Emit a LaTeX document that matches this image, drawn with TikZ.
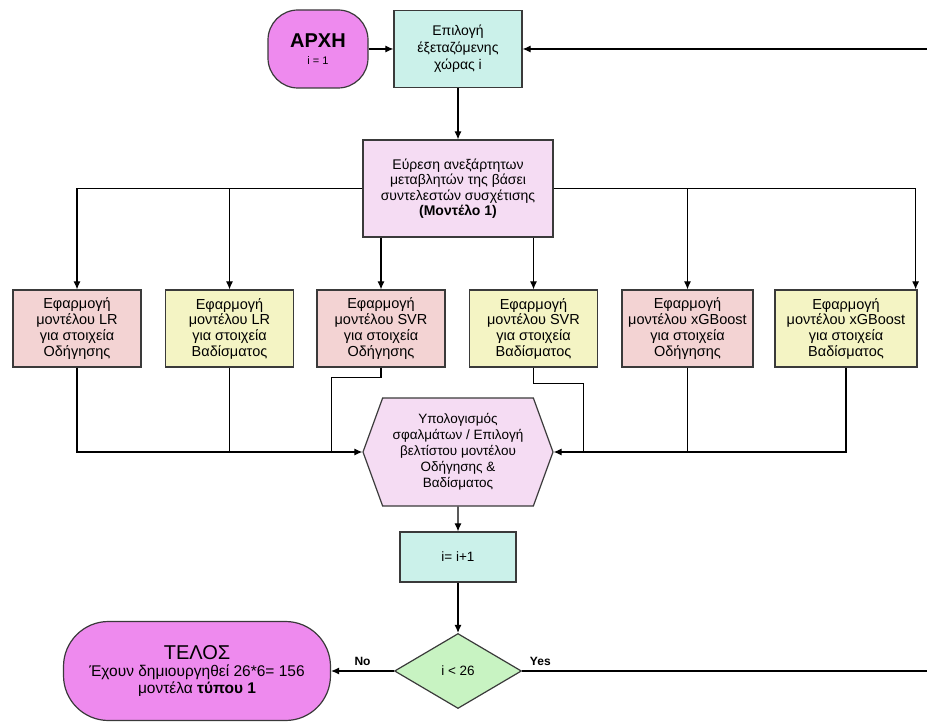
\documentclass[tikz,border=0pt]{standalone}
\usepackage{fontspec}
\setmainfont{Liberation Sans}
\usepackage{xcolor}
\usepackage{tikz}
\usetikzlibrary{
    arrows.meta,
    positioning,
    calc,
    shapes.geometric,
    shapes.symbols
}
\definecolor{fcLine}{HTML}{3A3A3A}
\definecolor{fcViolet}{HTML}{EE8AEE}
\definecolor{fcCyan}{HTML}{CBF1EA}
\definecolor{fcLilac}{HTML}{F5DCF3}
\definecolor{fcRose}{HTML}{F3D3D3}
\definecolor{fcCream}{HTML}{F4F4C4}
\definecolor{fcMint}{HTML}{C8F3C2}
\tikzset{
    fcTerm/.style={
        draw=fcLine,
        fill=fcViolet,
        align=center,
        line width=1.2pt,
        inner sep=0pt
    },
    fcBox/.style={
        draw=fcLine,
        fill=fcCyan,
        align=center,
        line width=1.2pt,
        inner sep=2pt
    },
    fcModel/.style={
        fcBox,
        minimum width=128pt,
        minimum height=77pt,
        font=\fontsize{14.5}{15.7}\selectfont
    },
    fcArrow/.style={-{Latex[length=8pt,width=7pt]},line width=1.1pt,draw=black},
    fcLink/.style={line width=1.1pt,draw=black}
}

\begin{document}
\begin{tikzpicture}[x=1pt,y=-1pt,font=\fontsize{13.5}{16}\selectfont]
        \useasboundingbox (0,0) rectangle (927,722);

        \node[fcTerm,rounded corners=30pt,minimum width=100pt,minimum height=78pt] (start) at (318,49)
            {{\fontsize{20}{22}\selectfont\bfseries ΑΡΧΗ}\\[1pt]{\fontsize{11}{13}\selectfont i = 1}};
        \node[fcBox,minimum width=128pt,minimum height=77pt,font=\fontsize{14}{17}\selectfont] (choose) at (458,49)
            {Επιλογή\\έξεταζόμενης\\χώρας i};
        \node[fcBox,fill=fcLilac,minimum width=190pt,minimum height=97pt,font=\fontsize{14}{15.5}\selectfont] (find) at (458,188.5)
            {Εύρεση ανεξάρτητων\\μεταβλητών της βάσει\\συντελεστών συσχέτισης\\\textbf{(Μοντέλο 1)}};

        \node[fcModel,fill=fcRose] (m1) at (77,328.5)
            {Εφαρμογή\\μοντέλου LR\\για στοιχεία\\Οδήγησης};
        \node[fcModel,fill=fcCream] (m2) at (229.5,328.5)
            {Εφαρμογή\\μοντέλου LR\\για στοιχεία\\Βαδίσματος};
        \node[fcModel,fill=fcRose] (m3) at (381,328.5)
            {Εφαρμογή\\μοντέλου SVR\\για στοιχεία\\Οδήγησης};
        \node[fcModel,fill=fcCream] (m4) at (533.5,328.5)
            {Εφαρμογή\\μοντέλου SVR\\για στοιχεία\\Βαδίσματος};
        \node[fcModel,fill=fcRose,minimum width=131pt] (m5) at (687.5,328.5)
            {Εφαρμογή\\μοντέλου xGBoost\\για στοιχεία\\Οδήγησης};
        \node[fcModel,fill=fcCream,minimum width=142pt] (m6) at (846,328.5)
            {Εφαρμογή\\μοντέλου xGBoost\\για στοιχεία\\Βαδίσματος};

        \node[fcBox,fill=fcLilac,shape=signal,signal to=west and east,signal pointer angle=140,
            minimum width=190pt,minimum height=108pt,inner sep=0pt] (calc) at (458,452)
            {Υπολογισμός\\σφαλμάτων / Επιλογή\\βελτίστου μοντέλου\\Οδήγησης \&\\Βαδίσματος};
        \node[fcBox,minimum width=116pt,minimum height=50pt] (inc) at (458,557)
            {i= i+1};
        \node[fcBox,fill=fcMint,shape=diamond,minimum width=127pt,minimum height=75pt,inner sep=0pt] (test) at (458,671)
            {i < 26};
        \node[fcTerm,rounded corners=45pt,minimum width=267pt,minimum height=99pt,font=\fontsize{15.5}{17}\selectfont] (stop) at (197,671)
            {{\fontsize{20}{22}\selectfont ΤΕΛΟΣ}\\Έχουν δημιουργηθεί 26*6= 156\\μοντέλα \textbf{τύπου 1}};
        \coordinate (loopRight) at (935,671);

        \draw[fcArrow] (start) -- (choose);
        \draw[fcArrow] (choose) -- (find);

        \draw[fcArrow] (find.west) -| (m1.north);
        \draw[fcArrow] (find.west) -| (m2.north);
        \draw[fcArrow] (find.south -| m3.north) -- (m3.north);
        \draw[fcArrow] (find.south -| m4.north) -- (m4.north);
        \draw[fcArrow] (find.east) -| (m5.north);
        \draw[fcArrow] (find.east) -| ([xshift=-2pt]m6.north east);

        \draw[fcArrow] (m1.south) |- (calc.west);
        \draw[fcLink] (m2.south) -- (m2.south |- calc.west);
        \draw[fcLink] (m3.south) -- ++(0,10) -| ([xshift=-31pt]calc.west);
        \draw[fcLink] (m4.south) -- ++(0,16) -| ([xshift=30pt]calc.east);
        \draw[fcLink] (m5.south) -- (m5.south |- calc.east);
        \draw[fcArrow] (m6.south) |- (calc.east);

        \draw[fcArrow] (calc) -- (inc);
        \draw[fcArrow] (inc) -- (test);
        \draw[fcArrow] (test.west) -- node[above=2pt,font=\fontsize{12}{14}\selectfont\bfseries] {No} (stop.east);
        \draw[fcArrow] (test.east) -- node[pos=0,above right=2pt and 4pt,font=\fontsize{12}{14}\selectfont\bfseries] {Yes} (loopRight) |- (choose.east);
    \end{tikzpicture}
\end{document}
